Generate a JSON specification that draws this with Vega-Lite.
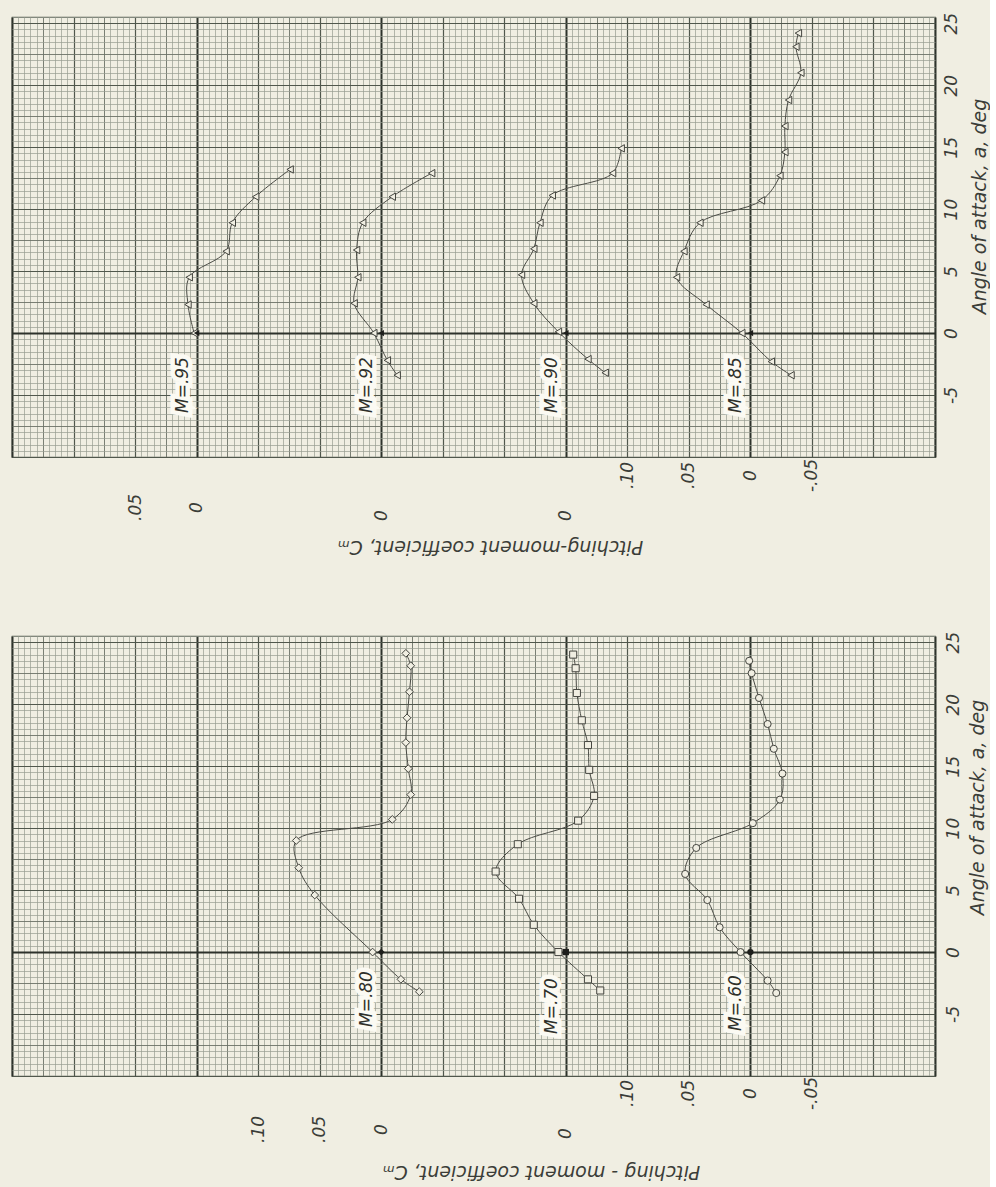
{
 "$schema": "https://vega.github.io/schema/vega-lite/v6.json",
 "background": "#f0eee2",
 "padding": {"left": 11, "top": 11, "right": 0, "bottom": 6},
 "config": {
  "view": {"stroke": "#555b52", "strokeWidth": 1.2},
  "font": "DejaVu Sans",
  "axis": {"labelFont": "DejaVu Sans", "titleFont": "DejaVu Sans", "labelFontStyle": "italic", "titleFontStyle": "italic", "labelColor": "#3b3d38", "titleColor": "#3b3d38", "titleFontWeight": "normal", "labelFontSize": 17, "titleFontSize": 19, "ticks": false, "tickSize": 0, "domain": false, "labelOverlap": false, "labelFlush": false, "labelBound": false}
 },
 "datasets": {
  "top": [
   {"M":".95","alpha":0,"cm":0.002},{"M":".95","alpha":2.3,"cm":0.007},{"M":".95","alpha":4.5,"cm":0.006},{"M":".95","alpha":6.6,"cm":-0.024},{"M":".95","alpha":8.9,"cm":-0.029},{"M":".95","alpha":11.0,"cm":-0.048},{"M":".95","alpha":13.2,"cm":-0.076},
   {"M":".92","alpha":-3.4,"cm":-0.013},{"M":".92","alpha":-2.2,"cm":-0.005},{"M":".92","alpha":0,"cm":0.006},{"M":".92","alpha":2.4,"cm":0.022},{"M":".92","alpha":4.5,"cm":0.019},{"M":".92","alpha":6.7,"cm":0.020},{"M":".92","alpha":8.9,"cm":0.015},{"M":".92","alpha":11.0,"cm":-0.009},{"M":".92","alpha":12.9,"cm":-0.041},
   {"M":".90","alpha":-3.2,"cm":-0.032},{"M":".90","alpha":-2.1,"cm":-0.018},{"M":".90","alpha":0.1,"cm":0.006},{"M":".90","alpha":2.4,"cm":0.026},{"M":".90","alpha":4.7,"cm":0.036},{"M":".90","alpha":6.8,"cm":0.026},{"M":".90","alpha":8.9,"cm":0.021},{"M":".90","alpha":11.1,"cm":0.011},{"M":".90","alpha":12.9,"cm":-0.038},{"M":".90","alpha":14.9,"cm":-0.045},
   {"M":".85","alpha":-3.4,"cm":-0.033},{"M":".85","alpha":-2.3,"cm":-0.017},{"M":".85","alpha":0,"cm":0.007},{"M":".85","alpha":2.3,"cm":0.036},{"M":".85","alpha":4.5,"cm":0.060},{"M":".85","alpha":6.6,"cm":0.054},{"M":".85","alpha":8.9,"cm":0.041},{"M":".85","alpha":10.7,"cm":-0.009},{"M":".85","alpha":12.7,"cm":-0.024},{"M":".85","alpha":14.6,"cm":-0.028},{"M":".85","alpha":16.7,"cm":-0.028},{"M":".85","alpha":18.8,"cm":-0.031},{"M":".85","alpha":21.0,"cm":-0.041},{"M":".85","alpha":23.1,"cm":-0.037},{"M":".85","alpha":24.2,"cm":-0.039}
  ],
  "topRef": [
   {"M":".95","alpha":0,"cm":0,"label":"M=.95"},{"M":".92","alpha":0,"cm":0,"label":"M=.92"},{"M":".90","alpha":0,"cm":0,"label":"M=.90"},{"M":".85","alpha":0,"cm":0,"label":"M=.85"}
  ],
  "bot": [
   {"M":".80","alpha":-3.2,"cm":-0.031},{"M":".80","alpha":-2.2,"cm":-0.016},{"M":".80","alpha":0,"cm":0.007},{"M":".80","alpha":4.6,"cm":0.054},{"M":".80","alpha":6.8,"cm":0.067},{"M":".80","alpha":9.0,"cm":0.069},{"M":".80","alpha":10.7,"cm":-0.009},{"M":".80","alpha":12.7,"cm":-0.024},{"M":".80","alpha":14.8,"cm":-0.022},{"M":".80","alpha":16.9,"cm":-0.020},{"M":".80","alpha":18.9,"cm":-0.021},{"M":".80","alpha":21.0,"cm":-0.023},{"M":".80","alpha":23.1,"cm":-0.024},{"M":".80","alpha":24.1,"cm":-0.020},
   {"M":".70","alpha":-3.1,"cm":-0.028},{"M":".70","alpha":-2.2,"cm":-0.018},{"M":".70","alpha":0,"cm":0.006},{"M":".70","alpha":2.2,"cm":0.026},{"M":".70","alpha":4.3,"cm":0.038},{"M":".70","alpha":6.5,"cm":0.057},{"M":".70","alpha":8.7,"cm":0.039},{"M":".70","alpha":10.6,"cm":-0.010},{"M":".70","alpha":12.6,"cm":-0.023},{"M":".70","alpha":14.7,"cm":-0.019},{"M":".70","alpha":16.7,"cm":-0.018},{"M":".70","alpha":18.7,"cm":-0.013},{"M":".70","alpha":20.9,"cm":-0.009},{"M":".70","alpha":22.9,"cm":-0.008},{"M":".70","alpha":24.0,"cm":-0.006},
   {"M":".60","alpha":-3.3,"cm":-0.021},{"M":".60","alpha":-2.3,"cm":-0.014},{"M":".60","alpha":0,"cm":0.008},{"M":".60","alpha":2.0,"cm":0.025},{"M":".60","alpha":4.2,"cm":0.035},{"M":".60","alpha":6.3,"cm":0.053},{"M":".60","alpha":8.4,"cm":0.044},{"M":".60","alpha":10.4,"cm":-0.002},{"M":".60","alpha":12.3,"cm":-0.024},{"M":".60","alpha":14.4,"cm":-0.026},{"M":".60","alpha":16.4,"cm":-0.019},{"M":".60","alpha":18.4,"cm":-0.014},{"M":".60","alpha":20.5,"cm":-0.007},{"M":".60","alpha":22.5,"cm":-0.001},{"M":".60","alpha":23.5,"cm":0.001}
  ],
  "botRef": [
   {"M":".80","alpha":0,"cm":0,"label":"M=.80"},{"M":".70","alpha":0,"cm":0,"label":"M=.70"},{"M":".60","alpha":0,"cm":0,"label":"M=.60"}
  ]
 },
 "bounds": "flush",
 "spacing": 179,
 "vconcat": [
  {
   "width": 923, "height": 440,
   "resolve": {"scale": {"x": "independent"}, "axis": {"y": "independent"}},
   "layer": [
    {
     "data": {"name": "top"},
     "mark": {"type": "point", "opacity": 0},
     "encoding": {
      "x": {"field": "cm", "type": "quantitative", "scale": {"domain": [-0.15, 0.6], "reverse": true, "nice": false, "zero": false},
       "axis": {"orient": "bottom", "grid": true, "labels": false, "title": null, "tickCount": 150,
        "gridColor": {"condition": [{"test": "abs(round(datum.value*200)) % 30 == 0", "value": "#2d322b"}, {"test": "abs(round(datum.value*200)) % 10 == 0", "value": "#50574c"}, {"test": "abs(round(datum.value*200)) % 5 == 0", "value": "#6c7268"}], "value": "#979c90"},
        "gridWidth": {"condition": [{"test": "abs(round(datum.value*200)) % 30 == 0", "value": 2}, {"test": "abs(round(datum.value*200)) % 10 == 0", "value": 1.2}, {"test": "abs(round(datum.value*200)) % 5 == 0", "value": 0.9}], "value": 0.7}}},
      "y": {"field": "alpha", "type": "quantitative", "scale": {"domain": [-10, 25.5], "nice": false, "zero": false},
       "axis": {"orient": "right", "grid": true, "tickCount": 71,
        "labelExpr": "datum.value % 5 == 0 && datum.value >= -5 ? '' + datum.value : ''",
        "labelAngle": 270, "labelAlign": "center", "labelBaseline": "middle", "labelPadding": 16,
        "title": "Angle of attack, a, deg", "titleAngle": 270, "titleX": 44, "titleY": 189, "titleAlign": "center", "titleBaseline": "middle",
        "gridColor": {"condition": [{"test": "datum.value == 0", "value": "#2d322b"}, {"test": "datum.value % 5 == 0", "value": "#50574c"}, {"test": "datum.value % 2.5 == 0", "value": "#6c7268"}], "value": "#979c90"},
        "gridWidth": {"condition": [{"test": "datum.value == 0", "value": 2}, {"test": "datum.value % 5 == 0", "value": 1.2}, {"test": "datum.value % 2.5 == 0", "value": 0.9}], "value": 0.7}}}
     }
    },
    {
     "data": {"name": "top"},
     "transform": [{"filter": "datum.M == '.85'"}],
     "encoding": {
      "x": {"field": "cm", "type": "quantitative", "scale": {"domain": [-0.15, 0.6], "reverse": true, "nice": false, "zero": false},
       "axis": {"orient": "bottom", "values": [0.1, 0.05, 0, -0.05], "labelExpr": "datum.value > 0.09 ? '.10' : datum.value > 0.04 ? '.05' : datum.value > -0.01 ? '0' : '-.05'", "labelAngle": 270, "labelAlign": "center", "labelBaseline": "middle", "labelPadding": 18, "grid": false,
        "title": "Pitching-moment coefficient, Cₘ", "titleAngle": 180, "titleX": 478, "titleY": 89, "titleAlign": "center", "titleBaseline": "middle"}},
      "y": {"field": "alpha", "type": "quantitative", "scale": {"domain": [-10, 25.5], "nice": false, "zero": false}, "axis": null}
     },
     "layer": [
      {"mark": {"type": "line", "interpolate": "catmull-rom", "stroke": "#4a4b45", "strokeWidth": 1}, "encoding": {"order": {"field": "alpha", "type": "quantitative"}}},
      {"mark": {"type": "point", "shape": "triangle-left", "filled": true, "fill": "#f0eee2", "stroke": "#44453f", "strokeWidth": 1, "size": 55, "opacity": 1}},
      {"data": {"name": "topRef"}, "transform": [{"filter": "datum.M == '.85'"}], "mark": {"type": "point", "shape": "triangle-left", "filled": true, "fill": "#1e1f1c", "size": 40, "opacity": 1}},
      {"data": {"name": "topRef"}, "transform": [{"filter": "datum.M == '.85'"}], "mark": {"type": "text", "angle": 270, "align": "center", "baseline": "alphabetic", "dx": -52, "dy": -9, "fontSize": 17, "fontStyle": "italic", "fill": "#fbfaf3", "stroke": "#fbfaf3", "strokeWidth": 9}, "encoding": {"text": {"field": "label"}}},
      {"data": {"name": "topRef"}, "transform": [{"filter": "datum.M == '.85'"}], "mark": {"type": "text", "angle": 270, "align": "center", "baseline": "alphabetic", "dx": -52, "dy": -9, "fontSize": 17, "fontStyle": "italic", "fill": "#2e302b"}, "encoding": {"text": {"field": "label"}}}
     ]
    },
    {
     "data": {"name": "top"},
     "transform": [{"filter": "datum.M == '.90'"}],
     "encoding": {
      "x": {"field": "cm", "type": "quantitative", "scale": {"domain": [-0.3, 0.45], "reverse": true, "nice": false, "zero": false},
       "axis": {"orient": "bottom", "values": [0], "labelExpr": "'0'", "labelAngle": 270, "labelAlign": "center", "labelBaseline": "middle", "labelPadding": 58, "grid": false, "title": null}},
      "y": {"field": "alpha", "type": "quantitative", "scale": {"domain": [-10, 25.5], "nice": false, "zero": false}, "axis": null}
     },
     "layer": [
      {"mark": {"type": "line", "interpolate": "catmull-rom", "stroke": "#4a4b45", "strokeWidth": 1}, "encoding": {"order": {"field": "alpha", "type": "quantitative"}}},
      {"mark": {"type": "point", "shape": "triangle-left", "filled": true, "fill": "#f0eee2", "stroke": "#44453f", "strokeWidth": 1, "size": 55, "opacity": 1}},
      {"data": {"name": "topRef"}, "transform": [{"filter": "datum.M == '.90'"}], "mark": {"type": "point", "shape": "triangle-left", "filled": true, "fill": "#1e1f1c", "size": 40, "opacity": 1}},
      {"data": {"name": "topRef"}, "transform": [{"filter": "datum.M == '.90'"}], "mark": {"type": "text", "angle": 270, "align": "center", "baseline": "alphabetic", "dx": -52, "dy": -9, "fontSize": 17, "fontStyle": "italic", "fill": "#fbfaf3", "stroke": "#fbfaf3", "strokeWidth": 9}, "encoding": {"text": {"field": "label"}}},
      {"data": {"name": "topRef"}, "transform": [{"filter": "datum.M == '.90'"}], "mark": {"type": "text", "angle": 270, "align": "center", "baseline": "alphabetic", "dx": -52, "dy": -9, "fontSize": 17, "fontStyle": "italic", "fill": "#2e302b"}, "encoding": {"text": {"field": "label"}}}
     ]
    },
    {
     "data": {"name": "top"},
     "transform": [{"filter": "datum.M == '.92'"}],
     "encoding": {
      "x": {"field": "cm", "type": "quantitative", "scale": {"domain": [-0.45, 0.3], "reverse": true, "nice": false, "zero": false},
       "axis": {"orient": "bottom", "values": [0], "labelExpr": "'0'", "labelAngle": 270, "labelAlign": "center", "labelBaseline": "middle", "labelPadding": 58, "grid": false, "title": null}},
      "y": {"field": "alpha", "type": "quantitative", "scale": {"domain": [-10, 25.5], "nice": false, "zero": false}, "axis": null}
     },
     "layer": [
      {"mark": {"type": "line", "interpolate": "catmull-rom", "stroke": "#4a4b45", "strokeWidth": 1}, "encoding": {"order": {"field": "alpha", "type": "quantitative"}}},
      {"mark": {"type": "point", "shape": "triangle-left", "filled": true, "fill": "#f0eee2", "stroke": "#44453f", "strokeWidth": 1, "size": 55, "opacity": 1}},
      {"data": {"name": "topRef"}, "transform": [{"filter": "datum.M == '.92'"}], "mark": {"type": "point", "shape": "triangle-left", "filled": true, "fill": "#1e1f1c", "size": 40, "opacity": 1}},
      {"data": {"name": "topRef"}, "transform": [{"filter": "datum.M == '.92'"}], "mark": {"type": "text", "angle": 270, "align": "center", "baseline": "alphabetic", "dx": -52, "dy": -9, "fontSize": 17, "fontStyle": "italic", "fill": "#fbfaf3", "stroke": "#fbfaf3", "strokeWidth": 9}, "encoding": {"text": {"field": "label"}}},
      {"data": {"name": "topRef"}, "transform": [{"filter": "datum.M == '.92'"}], "mark": {"type": "text", "angle": 270, "align": "center", "baseline": "alphabetic", "dx": -52, "dy": -9, "fontSize": 17, "fontStyle": "italic", "fill": "#2e302b"}, "encoding": {"text": {"field": "label"}}}
     ]
    },
    {
     "data": {"name": "top"},
     "transform": [{"filter": "datum.M == '.95'"}],
     "encoding": {
      "x": {"field": "cm", "type": "quantitative", "scale": {"domain": [-0.6, 0.15], "reverse": true, "nice": false, "zero": false},
       "axis": {"orient": "bottom", "values": [0.05, 0], "labelExpr": "datum.value > 0.04 ? '.05' : '0'", "labelAngle": 270, "labelAlign": "center", "labelBaseline": "middle", "labelPadding": 50, "grid": false, "title": null}},
      "y": {"field": "alpha", "type": "quantitative", "scale": {"domain": [-10, 25.5], "nice": false, "zero": false}, "axis": null}
     },
     "layer": [
      {"mark": {"type": "line", "interpolate": "catmull-rom", "stroke": "#4a4b45", "strokeWidth": 1}, "encoding": {"order": {"field": "alpha", "type": "quantitative"}}},
      {"mark": {"type": "point", "shape": "triangle-left", "filled": true, "fill": "#f0eee2", "stroke": "#44453f", "strokeWidth": 1, "size": 55, "opacity": 1}},
      {"data": {"name": "topRef"}, "transform": [{"filter": "datum.M == '.95'"}], "mark": {"type": "point", "shape": "triangle-left", "filled": true, "fill": "#1e1f1c", "size": 40, "opacity": 1}},
      {"data": {"name": "topRef"}, "transform": [{"filter": "datum.M == '.95'"}], "mark": {"type": "text", "angle": 270, "align": "center", "baseline": "alphabetic", "dx": -52, "dy": -9, "fontSize": 17, "fontStyle": "italic", "fill": "#fbfaf3", "stroke": "#fbfaf3", "strokeWidth": 9}, "encoding": {"text": {"field": "label"}}},
      {"data": {"name": "topRef"}, "transform": [{"filter": "datum.M == '.95'"}], "mark": {"type": "text", "angle": 270, "align": "center", "baseline": "alphabetic", "dx": -52, "dy": -9, "fontSize": 17, "fontStyle": "italic", "fill": "#2e302b"}, "encoding": {"text": {"field": "label"}}}
     ]
    }
   ]
  },
  {
   "width": 923, "height": 440,
   "resolve": {"scale": {"x": "independent"}, "axis": {"y": "independent"}},
   "layer": [
    {
     "data": {"name": "bot"},
     "mark": {"type": "point", "opacity": 0},
     "encoding": {
      "x": {"field": "cm", "type": "quantitative", "scale": {"domain": [-0.15, 0.6], "reverse": true, "nice": false, "zero": false},
       "axis": {"orient": "bottom", "grid": true, "labels": false, "title": null, "tickCount": 150,
        "gridColor": {"condition": [{"test": "abs(round(datum.value*200)) % 30 == 0", "value": "#2d322b"}, {"test": "abs(round(datum.value*200)) % 10 == 0", "value": "#50574c"}, {"test": "abs(round(datum.value*200)) % 5 == 0", "value": "#6c7268"}], "value": "#979c90"},
        "gridWidth": {"condition": [{"test": "abs(round(datum.value*200)) % 30 == 0", "value": 2}, {"test": "abs(round(datum.value*200)) % 10 == 0", "value": 1.2}, {"test": "abs(round(datum.value*200)) % 5 == 0", "value": 0.9}], "value": 0.7}}},
      "y": {"field": "alpha", "type": "quantitative", "scale": {"domain": [-10, 25.5], "nice": false, "zero": false},
       "axis": {"orient": "right", "grid": true, "tickCount": 71,
        "labelExpr": "datum.value % 5 == 0 && datum.value >= -5 ? '' + datum.value : ''",
        "labelAngle": 270, "labelAlign": "center", "labelBaseline": "middle", "labelPadding": 18,
        "title": "Angle of attack, a, deg", "titleAngle": 270, "titleX": 42, "titleY": 171, "titleAlign": "center", "titleBaseline": "middle",
        "gridColor": {"condition": [{"test": "datum.value == 0", "value": "#2d322b"}, {"test": "datum.value % 5 == 0", "value": "#50574c"}, {"test": "datum.value % 2.5 == 0", "value": "#6c7268"}], "value": "#979c90"},
        "gridWidth": {"condition": [{"test": "datum.value == 0", "value": 2}, {"test": "datum.value % 5 == 0", "value": 1.2}, {"test": "datum.value % 2.5 == 0", "value": 0.9}], "value": 0.7}}}
     }
    },
    {
     "data": {"name": "bot"},
     "transform": [{"filter": "datum.M == '.60'"}],
     "encoding": {
      "x": {"field": "cm", "type": "quantitative", "scale": {"domain": [-0.15, 0.6], "reverse": true, "nice": false, "zero": false},
       "axis": {"orient": "bottom", "values": [0.1, 0.05, 0, -0.05], "labelExpr": "datum.value > 0.09 ? '.10' : datum.value > 0.04 ? '.05' : datum.value > -0.01 ? '0' : '-.05'", "labelAngle": 270, "labelAlign": "center", "labelBaseline": "middle", "labelPadding": 17, "grid": false,
        "title": "Pitching - moment coefficient, Cₘ", "titleAngle": 180, "titleX": 529, "titleY": 95, "titleAlign": "center", "titleBaseline": "middle"}},
      "y": {"field": "alpha", "type": "quantitative", "scale": {"domain": [-10, 25.5], "nice": false, "zero": false}, "axis": null}
     },
     "layer": [
      {"mark": {"type": "line", "interpolate": "catmull-rom", "stroke": "#4a4b45", "strokeWidth": 1}, "encoding": {"order": {"field": "alpha", "type": "quantitative"}}},
      {"mark": {"type": "point", "shape": "circle", "filled": true, "fill": "#f0eee2", "stroke": "#44453f", "strokeWidth": 1, "size": 50, "opacity": 1}},
      {"data": {"name": "botRef"}, "transform": [{"filter": "datum.M == '.60'"}], "mark": {"type": "point", "shape": "circle", "filled": true, "fill": "#1e1f1c", "size": 40, "opacity": 1}},
      {"data": {"name": "botRef"}, "transform": [{"filter": "datum.M == '.60'"}], "mark": {"type": "text", "angle": 270, "align": "center", "baseline": "alphabetic", "dx": -51, "dy": -9, "fontSize": 17, "fontStyle": "italic", "fill": "#fbfaf3", "stroke": "#fbfaf3", "strokeWidth": 9}, "encoding": {"text": {"field": "label"}}},
      {"data": {"name": "botRef"}, "transform": [{"filter": "datum.M == '.60'"}], "mark": {"type": "text", "angle": 270, "align": "center", "baseline": "alphabetic", "dx": -51, "dy": -9, "fontSize": 17, "fontStyle": "italic", "fill": "#2e302b"}, "encoding": {"text": {"field": "label"}}}
     ]
    },
    {
     "data": {"name": "bot"},
     "transform": [{"filter": "datum.M == '.70'"}],
     "encoding": {
      "x": {"field": "cm", "type": "quantitative", "scale": {"domain": [-0.3, 0.45], "reverse": true, "nice": false, "zero": false},
       "axis": {"orient": "bottom", "values": [0], "labelExpr": "'0'", "labelAngle": 270, "labelAlign": "center", "labelBaseline": "middle", "labelPadding": 57, "grid": false, "title": null}},
      "y": {"field": "alpha", "type": "quantitative", "scale": {"domain": [-10, 25.5], "nice": false, "zero": false}, "axis": null}
     },
     "layer": [
      {"mark": {"type": "line", "interpolate": "catmull-rom", "stroke": "#4a4b45", "strokeWidth": 1}, "encoding": {"order": {"field": "alpha", "type": "quantitative"}}},
      {"mark": {"type": "point", "shape": "square", "filled": true, "fill": "#f0eee2", "stroke": "#44453f", "strokeWidth": 1, "size": 50, "opacity": 1}},
      {"data": {"name": "botRef"}, "transform": [{"filter": "datum.M == '.70'"}], "mark": {"type": "point", "shape": "square", "filled": true, "fill": "#1e1f1c", "size": 40, "opacity": 1}},
      {"data": {"name": "botRef"}, "transform": [{"filter": "datum.M == '.70'"}], "mark": {"type": "text", "angle": 270, "align": "center", "baseline": "alphabetic", "dx": -54, "dy": -9, "fontSize": 17, "fontStyle": "italic", "fill": "#fbfaf3", "stroke": "#fbfaf3", "strokeWidth": 9}, "encoding": {"text": {"field": "label"}}},
      {"data": {"name": "botRef"}, "transform": [{"filter": "datum.M == '.70'"}], "mark": {"type": "text", "angle": 270, "align": "center", "baseline": "alphabetic", "dx": -54, "dy": -9, "fontSize": 17, "fontStyle": "italic", "fill": "#2e302b"}, "encoding": {"text": {"field": "label"}}}
     ]
    },
    {
     "data": {"name": "bot"},
     "transform": [{"filter": "datum.M == '.80'"}],
     "encoding": {
      "x": {"field": "cm", "type": "quantitative", "scale": {"domain": [-0.45, 0.3], "reverse": true, "nice": false, "zero": false},
       "axis": {"orient": "bottom", "values": [0.1, 0.05, 0], "labelExpr": "datum.value > 0.09 ? '.10' : datum.value > 0.04 ? '.05' : '0'", "labelAngle": 270, "labelAlign": "center", "labelBaseline": "middle", "labelPadding": 53, "grid": false, "title": null}},
      "y": {"field": "alpha", "type": "quantitative", "scale": {"domain": [-10, 25.5], "nice": false, "zero": false}, "axis": null}
     },
     "layer": [
      {"mark": {"type": "line", "interpolate": "catmull-rom", "stroke": "#4a4b45", "strokeWidth": 1}, "encoding": {"order": {"field": "alpha", "type": "quantitative"}}},
      {"mark": {"type": "point", "shape": "diamond", "filled": true, "fill": "#f0eee2", "stroke": "#44453f", "strokeWidth": 1, "size": 60, "opacity": 1}},
      {"data": {"name": "botRef"}, "transform": [{"filter": "datum.M == '.80'"}], "mark": {"type": "point", "shape": "diamond", "filled": true, "fill": "#1e1f1c", "size": 45, "opacity": 1}},
      {"data": {"name": "botRef"}, "transform": [{"filter": "datum.M == '.80'"}], "mark": {"type": "text", "angle": 270, "align": "center", "baseline": "alphabetic", "dx": -47, "dy": -9, "fontSize": 17, "fontStyle": "italic", "fill": "#fbfaf3", "stroke": "#fbfaf3", "strokeWidth": 9}, "encoding": {"text": {"field": "label"}}},
      {"data": {"name": "botRef"}, "transform": [{"filter": "datum.M == '.80'"}], "mark": {"type": "text", "angle": 270, "align": "center", "baseline": "alphabetic", "dx": -47, "dy": -9, "fontSize": 17, "fontStyle": "italic", "fill": "#2e302b"}, "encoding": {"text": {"field": "label"}}}
     ]
    }
   ]
  }
 ]
}
